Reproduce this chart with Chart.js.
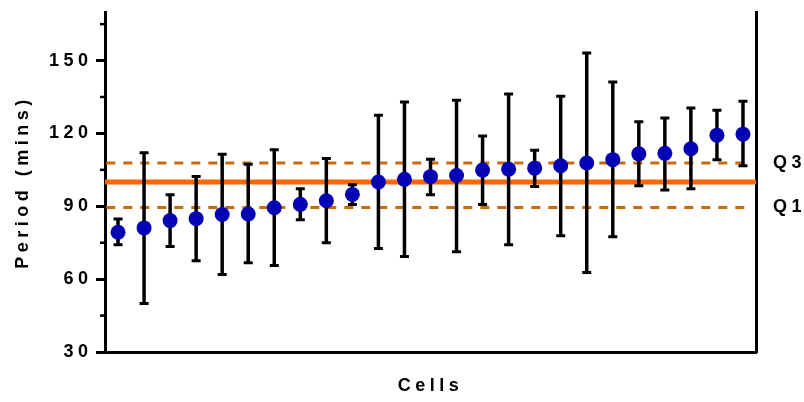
<!DOCTYPE html>
<html>
<head>
<meta charset="utf-8">
<script src="https://cdn.jsdelivr.net/npm/chart.js@4/dist/chart.umd.min.js"></script>
<style>
  html, body { margin: 0; padding: 0; background: #fff; }
  #wrap { width: 804px; height: 402px; }
</style>
</head>
<body>
<div id="wrap"><canvas id="graph0"></canvas></div>
<script>
// cells along x, mean period and error bar ends (mins)
var cells = [1, 2, 3, 4, 5, 6, 7, 8, 9, 10, 11, 12, 13, 14, 15, 16, 17, 18, 19, 20, 21, 22, 23, 24, 25];
var period = [79.3, 81.1, 84.1, 84.9, 86.6, 86.8, 89.4, 90.8, 92.3, 94.9, 100.0, 101.1, 102.2, 102.7, 104.9,
              105.3, 105.7, 106.7, 107.8, 109.2, 111.6, 111.8, 113.7, 119.3, 119.7];
var upper = [84.8, 112.0, 94.8, 102.3, 111.4, 107.3, 113.3, 97.2, 109.7, 98.9, 127.5, 132.9, 109.4, 133.7, 118.9,
             136.2, 113.1, 135.3, 153.1, 141.2, 124.8, 126.4, 130.5, 129.5, 133.2];
var lower = [74.2, 50.0, 73.4, 67.6, 61.9, 66.8, 65.6, 84.5, 75.0, 90.7, 72.6, 69.3, 94.8, 71.3, 90.7,
             74.2, 98.1, 77.9, 62.7, 77.5, 98.5, 96.7, 97.2, 109.2, 106.7];

var median = 100;
var q1 = 89.5;
var q3 = 107.8;

var yTicks = [30, 60, 90, 120, 150];
var minorTicks = [45, 75, 105, 135, 165];
var quartileLabels = ['Q1', 'Q3'];

var FONT = "'Liberation Sans', Arial, sans-serif";

function getPoints() {
  var pts = [];
  for (var i = 0; i < cells.length; i++) {
    pts.push({x: cells[i], y: period[i]});
  }
  return pts;
}

function flatLine(value, x0, x1) {
  return [{x: x0, y: value}, {x: x1, y: value}];
}

// error bars drawn just before the blue points so the dots sit on top
var errorBars = {
  id: 'errorBars',
  beforeDatasetDraw: function(chart, args) {
    if (args.index !== 0) return;
    var ctx = chart.ctx;
    var xs = chart.scales.x;
    var ys = chart.scales.y;
    ctx.save();
    ctx.strokeStyle = '#000';
    ctx.lineCap = 'butt';
    for (var i = 0; i < cells.length; i++) {
      var x = xs.getPixelForValue(cells[i]);
      var yt = ys.getPixelForValue(upper[i]);
      var yb = ys.getPixelForValue(lower[i]);
      ctx.lineWidth = 3.5;
      ctx.beginPath();
      ctx.moveTo(x, yt);
      ctx.lineTo(x, yb);
      ctx.stroke();
      ctx.lineWidth = 3;
      ctx.beginPath();
      ctx.moveTo(x - 4.5, yt);
      ctx.lineTo(x + 4.5, yt);
      ctx.moveTo(x - 4.5, yb);
      ctx.lineTo(x + 4.5, yb);
      ctx.stroke();
    }
    ctx.restore();
  }
};

// short minor ticks on the left axis + spaced lettering everywhere
var axisExtras = {
  id: 'axisExtras',
  beforeDraw: function(chart) {
    chart.ctx.letterSpacing = '4.5px';
  },
  afterDraw: function(chart) {
    var ctx = chart.ctx;
    var ys = chart.scales.y;
    var left = chart.chartArea.left;
    ctx.save();
    ctx.strokeStyle = '#000';
    ctx.lineWidth = 2.5;
    for (var i = 0; i < minorTicks.length; i++) {
      var y = ys.getPixelForValue(minorTicks[i]);
      ctx.beginPath();
      ctx.moveTo(left - 5, y);
      ctx.lineTo(left, y);
      ctx.stroke();
    }
    ctx.restore();
  }
};

function fixWidth(w) {
  return function(s) {
    s.width = w;
    s.paddingTop = 0;
    s.paddingBottom = 0;
  };
}

function drawGraph() {
  var ctx = document.getElementById('graph0');

  new Chart(ctx, {
    type: 'scatter',
    data: {
      datasets: [{
        label: 'Cells',
        data: getPoints(),
        backgroundColor: '#0303b5',
        borderWidth: 0,
        pointRadius: 7.5
      }, {
        label: 'Median',
        type: 'line',
        data: flatLine(median, 0.5, 25.5),
        borderColor: '#ff6600',
        borderWidth: 5,
        pointRadius: 0
      }, {
        label: 'Q3',
        type: 'line',
        data: flatLine(q3, 0.55, 25.25),
        borderColor: '#cc6a0a',
        borderWidth: 3,
        borderDash: [9, 8],
        pointRadius: 0
      }, {
        label: 'Q1',
        type: 'line',
        data: flatLine(q1, 0.55, 25.25),
        borderColor: '#cc6a0a',
        borderWidth: 3,
        borderDash: [9, 8],
        pointRadius: 0
      }]
    },
    options: {
      responsive: true,
      maintainAspectRatio: false,
      animation: false,
      events: [],
      layout: { padding: { top: 12, left: 0, right: 0, bottom: 0 } },
      plugins: {
        legend: { display: false },
        tooltip: { enabled: false }
      },
      scales: {
        x: {
          type: 'linear',
          min: 0.5,
          max: 25.5,
          grid: { display: false, drawTicks: false },
          border: { display: true, color: '#000', width: 3 },
          ticks: { display: false },
          title: {
            display: true,
            text: 'Cells',
            color: '#000',
            font: { family: FONT, size: 18, weight: 'bold' },
            padding: { top: 0, bottom: 5 }
          },
          afterFit: function(s) {
            s.height = 50;
            s.paddingLeft = 0;
            s.paddingRight = 0;
          }
        },
        y: {
          position: 'left',
          min: 30,
          max: 170,
          grid: {
            display: true,
            drawOnChartArea: false,
            drawTicks: true,
            tickLength: 9,
            tickWidth: 3,
            tickColor: '#000'
          },
          border: { display: true, color: '#000', width: 3 },
          afterBuildTicks: function(s) {
            s.ticks = yTicks.map(function(v) { return {value: v}; });
          },
          ticks: {
            color: '#000',
            padding: 3.5,
            font: { family: FONT, size: 18, weight: 'bold' }
          },
          title: {
            display: true,
            text: 'Period (mins)',
            color: '#000',
            font: { family: FONT, size: 18, weight: 'bold' },
            padding: { top: 12, bottom: 0 }
          },
          afterFit: fixWidth(105)
        },
        y2: {
          position: 'right',
          min: 30,
          max: 170,
          grid: { display: false, drawTicks: false },
          border: { display: true, color: '#000', width: 3 },
          afterBuildTicks: function(s) {
            s.ticks = [{value: q1}, {value: q3}];
          },
          ticks: {
            color: '#000',
            padding: 17,
            font: { family: FONT, size: 18, weight: 'bold' },
            callback: function(v) {
              return v === q1 ? quartileLabels[0] : quartileLabels[1];
            }
          },
          afterFit: fixWidth(48)
        }
      }
    },
    plugins: [errorBars, axisExtras]
  });
}

drawGraph();
</script>
</body>
</html>
